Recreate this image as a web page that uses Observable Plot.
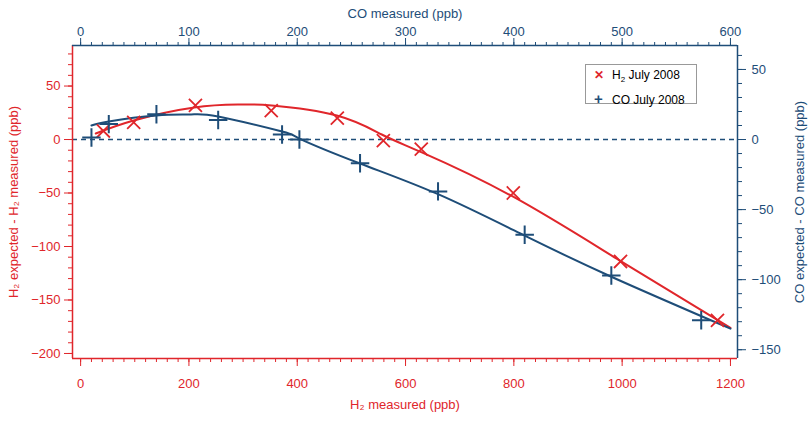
<!DOCTYPE html>
<html><head><meta charset="utf-8">
<script src="https://cdn.jsdelivr.net/npm/d3@7"></script>
<script src="https://cdn.jsdelivr.net/npm/@observablehq/plot@0.6"></script>
<style>body{margin:0;font-family:"Liberation Sans",Arial,sans-serif;background:#fff}#wrap{position:relative;width:811px;height:423px}
#leg{position:absolute;left:585px;top:64px;width:112px;height:40px;border:1px solid #999;background:#fff;font-size:12px;line-height:19px;padding:1px 0 0 8px;box-sizing:border-box}</style>
</head><body><div id="wrap"></div>
<script>
const RED="#e0262b", BLUE="#1e4d78";
const h2X=[42,98,212,352,474,559,629,799,997,1176];
const h2Y=[8,16,32,27,20,-1,-9,-50,-114,-169];
const coX=[10,26,70,127,186,202,258,330,410,490,573];
const coY=[1.4,11,18,14,3.6,0,-17,-37,-68,-97,-129];
const h2FitX=[28,98,210,295,353,473,556,630,797,995,1200];
const h2FitY=[5.6,17.8,30,32.7,31.8,22.4,4.7,-12,-53,-113,-176];
const coFitX=[10,26,70,102,127,186,202,258,330,410,490,600];
const coFitY=[10,12.9,17.1,17.9,16.4,5.7,0.7,-17.1,-39,-68.6,-97.9,-135];
const leftTicks=[50,0,-50,-100,-150,-200], rightTicks=[50,0,-50,-100,-150];
const bottomTicks=[0,200,400,600,800,1000,1200], topTicks=[0,100,200,300,400,500,600];

const XD=[-15,1213], YD=[87.9,-204.7], R=87.9/67.1, XR=2;
const h2=h2X.map((x,i)=>({x,y:h2Y[i]}));
const co=coX.map((x,i)=>({x:x*XR,y:coY[i]*R}));
const h2f=h2FitX.map((x,i)=>({x,y:h2FitY[i]}));
const cof=coFitX.map((x,i)=>({x:x*XR,y:coFitY[i]*R}));
const rng=(a,b,s)=>d3.range(a,b+1e-9,s);
const fs=13;
const plot=Plot.plot({
  width:811,height:423,marginLeft:72,marginRight:74,marginTop:45,marginBottom:65,
  style:{fontFamily:"Liberation Sans, Arial, sans-serif",fontSize:"13px",background:"#fff"},
  x:{domain:XD,axis:null},y:{domain:[YD[1],YD[0]],axis:null},
  marks:[
    Plot.axisX(rng(0,1200,20),{anchor:"bottom",tickSize:4,text:null,label:null,stroke:RED}),
    Plot.axisX(bottomTicks,{anchor:"bottom",tickSize:8,tickPadding:12,fontSize:fs,tickFormat:d=>String(d),stroke:RED,color:RED,label:"H₂ measured (ppb)",labelAnchor:"center",labelArrow:"none",labelOffset:50}),
    Plot.axisX(rng(0,600,10).map(v=>v*XR),{anchor:"top",tickSize:4,text:null,label:null,stroke:BLUE}),
    Plot.axisX(topTicks.map(v=>v*XR),{anchor:"top",tickSize:8,tickPadding:2,fontSize:fs,tickFormat:d=>String(d/XR),stroke:BLUE,color:BLUE,label:"CO measured (ppb)",labelAnchor:"center",labelArrow:"none",labelOffset:37}),
    Plot.axisY(rng(-200,80,10),{anchor:"left",tickSize:4,text:null,label:null,stroke:RED}),
    Plot.axisY(leftTicks,{anchor:"left",tickSize:8,tickPadding:4,fontSize:fs,tickFormat:d=>d<0?"−"+(-d):String(d),stroke:RED,color:RED,label:"H₂ expected - H₂ measured (ppb)",labelAnchor:"center",labelArrow:"none",labelOffset:64}),
    Plot.axisY(rng(-150,60,10).map(v=>v*R),{anchor:"right",tickSize:4,text:null,label:null,stroke:BLUE}),
    Plot.axisY(rightTicks.map(v=>v*R),{anchor:"right",tickSize:8,tickPadding:6,fontSize:fs,tickFormat:d=>{const v=Math.round(d/R);return v<0?"−"+(-v):String(v);},stroke:BLUE,color:BLUE,label:"CO expected - CO measured (ppb)",labelAnchor:"center",labelArrow:"none",labelOffset:66}),
    Plot.ruleY([0],{stroke:BLUE,strokeDasharray:"5,4",strokeWidth:1.5}),
    Plot.line(h2f,{x:"x",y:"y",curve:"natural",stroke:RED,strokeWidth:2}),
    Plot.line(cof,{x:"x",y:"y",curve:"natural",stroke:BLUE,strokeWidth:2}),
    Plot.dot(h2,{x:"x",y:"y",symbol:"times",r:6,stroke:RED,strokeWidth:1.8}),
    Plot.dot(co,{x:"x",y:"y",symbol:"plus",r:6,stroke:BLUE,strokeWidth:2}),
    Plot.ruleX([XD[0]],{stroke:RED,strokeWidth:1.5}),
    Plot.ruleY([YD[1]],{stroke:RED,strokeWidth:1.5}),
    Plot.ruleX([XD[1]],{stroke:BLUE,strokeWidth:1.5}),
    Plot.ruleY([YD[0]],{stroke:BLUE,strokeWidth:1.5})
  ]
});
const wrap=document.getElementById("wrap");
wrap.appendChild(plot);
const leg=document.createElement("div");leg.id="leg";
leg.innerHTML=`<div><span style="color:${RED};font-weight:bold;display:inline-block;width:18px">✕</span>H<sub style="font-size:8px">2</sub> July 2008</div><div><span style="color:${BLUE};font-weight:bold;font-size:15px;display:inline-block;width:18px">+</span>CO July 2008</div>`;
wrap.appendChild(leg);
</script></body></html>
